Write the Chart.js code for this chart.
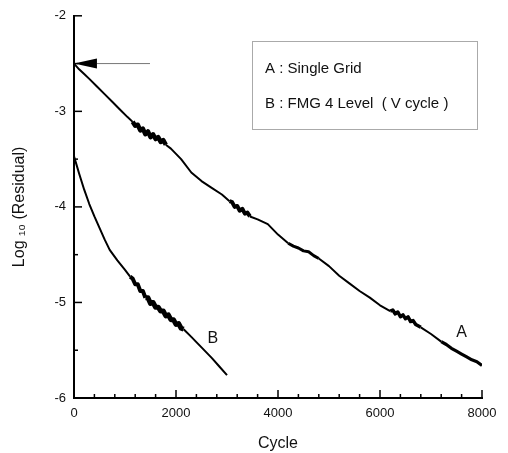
<!DOCTYPE html>
<html>
<head>
<meta charset="utf-8">
<script src="https://cdn.jsdelivr.net/npm/chart.js@4.4.1/dist/chart.umd.min.js"></script>
<style>
  body { margin: 0; background: #fff; }
  #wrap { width: 508px; height: 453px; }
</style>
</head>
<body>
<div id="wrap"><canvas id="chart" width="508" height="453"></canvas></div>
<script>
// Curve A : single grid (wiggles in the noisy stretches)
const cyclesA = [0, 100, 200, 300, 450, 600, 750, 900, 1050, 1150, 1200, 1250, 1300, 1350, 1400, 1450, 1500, 1550,
  1600, 1650, 1700, 1750, 1800, 1900, 2100, 2300, 2500, 2700, 2900, 3050, 3100, 3150, 3200, 3250, 3300, 3350,
  3400, 3450, 3600, 3800, 4000, 4200, 4300, 4400, 4500, 4600, 4700, 4800, 5000, 5200, 5400, 5600, 5800, 6000,
  6200, 6250, 6300, 6350, 6400, 6450, 6500, 6550, 6600, 6650, 6700, 6800, 7000, 7200, 7300, 7400, 7500, 7600,
  7700, 7800, 7900, 8000];
const residA = [-2.50, -2.56, -2.61, -2.66, -2.74, -2.82, -2.90, -2.98, -3.06, -3.11, -3.15, -3.14, -3.20, -3.18, -3.24, -3.21, -3.27, -3.24,
  -3.29, -3.27, -3.32, -3.30, -3.35, -3.39, -3.50, -3.64, -3.73, -3.80, -3.87, -3.94, -3.95, -4.00, -3.99, -4.04, -4.02, -4.07,
  -4.06, -4.10, -4.13, -4.18, -4.29, -4.38, -4.41, -4.43, -4.46, -4.47, -4.51, -4.54, -4.62, -4.72, -4.80, -4.88, -4.95, -5.03,
  -5.09, -5.08, -5.12, -5.10, -5.15, -5.13, -5.17, -5.15, -5.20, -5.19, -5.23, -5.26, -5.33, -5.41, -5.44, -5.48, -5.51, -5.54,
  -5.57, -5.60, -5.62, -5.66];

// Curve B : FMG 4 level
const cyclesB = [0, 50, 100, 200, 300, 400, 500, 600, 700, 850, 1000, 1100, 1150, 1200, 1250, 1300, 1350, 1400, 1450,
  1500, 1550, 1600, 1650, 1700, 1750, 1800, 1850, 1900, 1950, 2000, 2050, 2100, 2150, 2300, 2500, 2700, 2850, 3000];
const residB = [-3.47, -3.56, -3.65, -3.82, -3.97, -4.10, -4.22, -4.34, -4.45, -4.56, -4.66, -4.73, -4.75, -4.81, -4.81, -4.88, -4.88, -4.95, -4.95,
  -5.01, -5.00, -5.05, -5.05, -5.09, -5.09, -5.14, -5.13, -5.18, -5.18, -5.23, -5.22, -5.27, -5.28, -5.36, -5.47, -5.58, -5.67, -5.76];

const xTicks = [0, 2000, 4000, 6000, 8000];
const yTicks = [-6, -5, -4, -3, -2];
const legendLines = ['A : Single Grid', 'B : FMG 4 Level  ( V cycle )'];

const FONT = '"Liberation Sans", Arial, sans-serif';

// noisy stretches are drawn as a thicker band
const noisyA = [[1150, 1800, 4.5], [3050, 3450, 4], [4200, 4800, 3], [6200, 6800, 3.5], [7200, 8000, 3.2]];
const noisyB = [[1100, 1400, 4], [1400, 2150, 5]];

function widthFor(ranges, x) {
  for (const r of ranges) if (x >= r[0] && x < r[1]) return r[2];
  return 2;
}

const toPts = (xs, ys) => xs.map((x, i) => ({ x: x, y: ys[i] }));

// inward ticks, legend box, arrow and curve letters
const decor = {
  id: 'decor',
  afterDraw(chart) {
    const { ctx, scales: { x, y } } = chart;
    const x0 = x.getPixelForValue(0), y0 = y.getPixelForValue(-6);
    ctx.save();
    ctx.strokeStyle = '#000';
    ctx.lineWidth = 1.5;
    // minor + major ticks on x
    for (let v = 0; v <= 8000; v += 400) {
      const px = x.getPixelForValue(v);
      const len = v % 2000 === 0 ? 8 : 4;
      ctx.beginPath(); ctx.moveTo(px, y0); ctx.lineTo(px, y0 - len); ctx.stroke();
    }
    for (let v = -6; v <= -2; v += 0.5) {
      const py = y.getPixelForValue(v);
      const len = Number.isInteger(v) ? 8 : 4;
      ctx.beginPath(); ctx.moveTo(x0, py); ctx.lineTo(x0 + len, py); ctx.stroke();
    }

    // arrow pointing at the start of A
    const ay = y.getPixelForValue(-2.5);
    const tip = x.getPixelForValue(0);
    const head = x.getPixelForValue(450);
    const tail = x.getPixelForValue(1490);
    ctx.strokeStyle = '#777';
    ctx.lineWidth = 1;
    ctx.beginPath(); ctx.moveTo(head, ay); ctx.lineTo(tail, ay); ctx.stroke();
    ctx.fillStyle = '#000';
    ctx.beginPath();
    ctx.moveTo(tip, ay);
    ctx.lineTo(head, ay - 5);
    ctx.lineTo(head, ay + 5);
    ctx.closePath();
    ctx.fill();

    // legend box
    ctx.strokeStyle = '#555';
    ctx.lineWidth = 1;
    ctx.setLineDash([1, 1]);
    ctx.strokeRect(252.5, 41.5, 225, 88);
    ctx.setLineDash([]);
    ctx.fillStyle = '#111';
    ctx.font = '15px ' + FONT;
    ctx.textBaseline = 'middle';
    ctx.textAlign = 'left';
    ctx.fillText(legendLines[0], 265, 69);
    ctx.fillText(legendLines[1], 265, 104);

    // curve letters
    ctx.font = '16px ' + FONT;
    ctx.textAlign = 'center';
    ctx.fillText('A', x.getPixelForValue(7600), y.getPixelForValue(-5.32));
    ctx.fillText('B', x.getPixelForValue(2720), y.getPixelForValue(-5.38));
    ctx.restore();
  }
};

new Chart(document.getElementById('chart'), {
  type: 'line',
  data: {
    datasets: [
      {
        label: 'A',
        data: toPts(cyclesA, residA),
        borderColor: '#000',
        borderWidth: 2,
        borderJoinStyle: 'round',
        pointRadius: 0,
        tension: 0,
        segment: { borderWidth: c => widthFor(noisyA, c.p0.parsed.x) }
      },
      {
        label: 'B',
        data: toPts(cyclesB, residB),
        borderColor: '#000',
        borderWidth: 2,
        borderJoinStyle: 'round',
        pointRadius: 0,
        tension: 0,
        segment: { borderWidth: c => widthFor(noisyB, c.p0.parsed.x) }
      }
    ]
  },
  options: {
    responsive: false,
    animation: false,
    layout: { padding: { top: 10, right: 26, left: 0, bottom: 0 } },
    plugins: { legend: { display: false }, tooltip: { enabled: false } },
    scales: {
      x: {
        type: 'linear',
        min: 0, max: 8000,
        afterBuildTicks: s => { s.ticks = xTicks.map(v => ({ value: v })); },
        afterFit: s => { s.height = 55; },
        grid: { display: false, drawTicks: false },
        border: { display: true, color: '#000', width: 2 },
        ticks: {
          padding: 8,
          color: '#111',
          font: { family: FONT, size: 13 },
          maxRotation: 0,
          callback: v => String(v)
        },
        title: {
          display: true,
          text: 'Cycle',
          color: '#111',
          font: { family: FONT, size: 16 },
          padding: { top: 8, bottom: 0 }
        }
      },
      y: {
        min: -6, max: -2,
        afterBuildTicks: s => { s.ticks = yTicks.map(v => ({ value: v })); },
        afterFit: s => { s.width = 74; },
        grid: { display: false, drawTicks: false },
        border: { display: true, color: '#000', width: 2 },
        ticks: {
          padding: 8,
          color: '#111',
          font: { family: FONT, size: 13 },
          callback: v => String(v)
        },
        title: {
          display: true,
          text: 'Log \u2081\u2080 (Residual)',
          color: '#111',
          font: { family: FONT, size: 16 },
          padding: { top: 10, bottom: 4 }
        }
      }
    }
  },
  plugins: [decor]
});
</script>
</body>
</html>
